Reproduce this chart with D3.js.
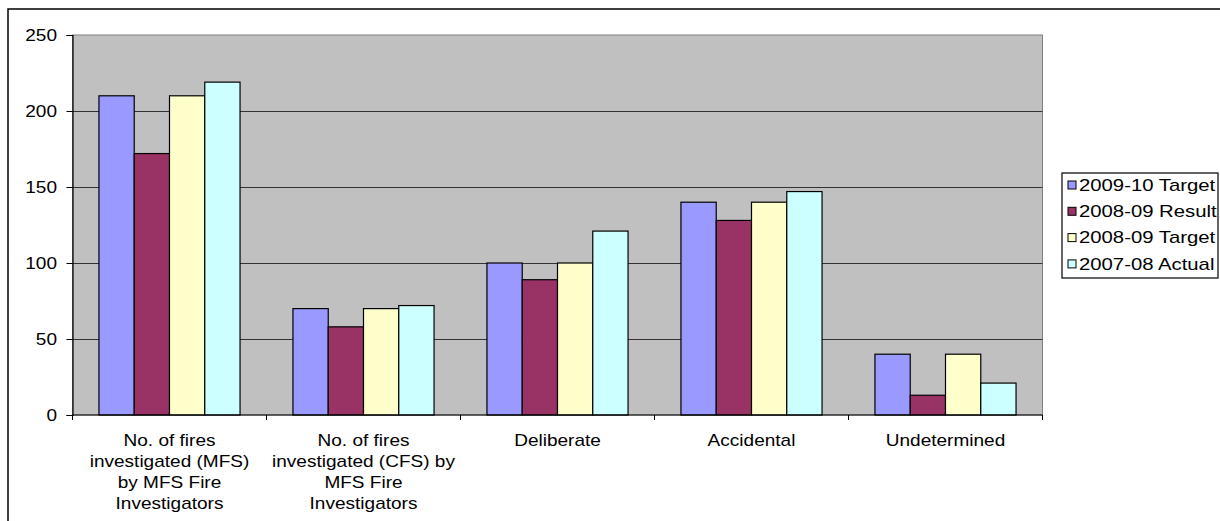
<!DOCTYPE html>
<html>
<head>
<meta charset="utf-8">
<script src="https://cdn.jsdelivr.net/npm/d3@7"></script>
<style>
  html, body { margin: 0; padding: 0; background: #fff; }
  svg { display: block; font-family: "Liberation Sans", Arial, sans-serif; }
</style>
</head>
<body>
<svg id="chart" width="1220" height="521"></svg>
<script>
// Fire investigation figures by category
const categories = [
  "No. of fires investigated (MFS) by MFS Fire Investigators",
  "No. of fires investigated (CFS) by MFS Fire Investigators",
  "Deliberate",
  "Accidental",
  "Undetermined"
];
const categoryLines = [
  ["No. of fires", "investigated (MFS)", "by MFS Fire", "Investigators"],
  ["No. of fires", "investigated (CFS) by", "MFS Fire", "Investigators"],
  ["Deliberate"],
  ["Accidental"],
  ["Undetermined"]
];
const seriesNames = ["2009-10 Target", "2008-09 Result", "2008-09 Target", "2007-08 Actual"];
const target2009_10 = [210, 70, 100, 140, 40];
const result2008_09 = [172, 58, 89, 128, 13];
const target2008_09 = [210, 70, 100, 140, 40];
const actual2007_08 = [219, 72, 121, 147, 21];
const seriesValues = [target2009_10, result2008_09, target2008_09, actual2007_08];
const seriesColors = ["#9999FF", "#993366", "#FFFFCC", "#CCFFFF"];
const yTicks = [0, 50, 100, 150, 200, 250];

const svg = d3.select("#chart");
const plot = { left: 72.5, right: 1042.5, top: 35, bottom: 415 };
// The text in this chart is set slightly wide
const wide = 1.12;

// Outer chart frame
svg.append("rect")
  .attr("x", 8).attr("y", 9)
  .attr("width", 1230).attr("height", 600)
  .attr("fill", "#fff").attr("stroke", "#000").attr("stroke-width", 1.5);

const y = d3.scaleLinear().domain([0, 250]).range([plot.bottom, plot.top]);
const x0 = d3.scaleBand().domain(categories).range([plot.left, plot.right]).padding(0);
const x1 = d3.scaleBand().domain(seriesNames).range([0, x0.bandwidth()])
  .paddingInner(0).paddingOuter(0.75);

// Plot background
svg.append("rect")
  .attr("x", plot.left).attr("y", plot.top)
  .attr("width", plot.right - plot.left).attr("height", plot.bottom - plot.top)
  .attr("fill", "#C0C0C0").attr("stroke", "#808080").attr("stroke-width", 1);

// Horizontal gridlines
svg.append("g").selectAll("line")
  .data(yTicks.filter(t => t > 0 && t < 250))
  .join("line")
  .attr("x1", plot.left).attr("x2", plot.right)
  .attr("y1", d => Math.round(y(d)) + 0.5).attr("y2", d => Math.round(y(d)) + 0.5)
  .attr("stroke", "#333").attr("stroke-width", 1);

// Bars
const groups = svg.append("g").selectAll("g")
  .data(categories)
  .join("g")
  .attr("transform", d => `translate(${x0(d)},0)`);

groups.selectAll("rect")
  .data((d, i) => seriesNames.map((s, j) => ({ s, v: seriesValues[j][i], c: seriesColors[j] })))
  .join("rect")
  .attr("x", d => x1(d.s))
  .attr("y", d => y(d.v))
  .attr("width", x1.bandwidth())
  .attr("height", d => y(0) - y(d.v))
  .attr("fill", d => d.c)
  .attr("stroke", "#000").attr("stroke-width", 1.2);

// Y axis
const yAxis = svg.append("g")
  .attr("transform", `translate(${plot.left},0)`)
  .call(d3.axisLeft(y).tickValues(yTicks).tickSize(6).tickPadding(9).tickFormat(d3.format("d")));
yAxis.select(".domain").attr("stroke", "#000").attr("stroke-width", 1.2);
yAxis.selectAll(".tick line").attr("stroke", "#000");
yAxis.selectAll("text")
  .attr("font-size", 17).attr("fill", "#000")
  .attr("font-family", "'Liberation Sans', Arial, sans-serif")
  .attr("x", 0)
  .attr("transform", `translate(-15.5,0) scale(${wide},1)`);

// X axis line and category separators
svg.append("line")
  .attr("x1", plot.left).attr("x2", plot.right)
  .attr("y1", plot.bottom).attr("y2", plot.bottom)
  .attr("stroke", "#000").attr("stroke-width", 1.2);
const bounds = categories.map(c => x0(c)).concat([plot.right]);
svg.append("g").selectAll("line")
  .data(bounds)
  .join("line")
  .attr("x1", d => d).attr("x2", d => d)
  .attr("y1", plot.bottom).attr("y2", plot.bottom + 5)
  .attr("stroke", "#000").attr("stroke-width", 1);

// Category labels
const labels = svg.append("g").selectAll("text")
  .data(categories)
  .join("text")
  .attr("transform", d => `translate(${x0(d) + x0.bandwidth() / 2},446) scale(${wide},1)`)
  .attr("text-anchor", "middle")
  .attr("font-size", 17)
  .attr("fill", "#000");
labels.each(function (d, i) {
  d3.select(this).selectAll("tspan")
    .data(categoryLines[i])
    .join("tspan")
    .attr("x", 0)
    .attr("dy", (t, k) => k === 0 ? 0 : 21)
    .text(t => t);
});

// Legend
const legend = svg.append("g").attr("transform", "translate(1062,173)");
legend.append("rect")
  .attr("x", 0).attr("y", 0).attr("width", 156).attr("height", 105)
  .attr("fill", "#fff").attr("stroke", "#000").attr("stroke-width", 1.2);
const items = legend.selectAll("g.item")
  .data(seriesNames)
  .join("g")
  .attr("class", "item")
  .attr("transform", (d, i) => `translate(0,${12 + i * 26.3})`);
items.append("rect")
  .attr("x", 6).attr("y", -4).attr("width", 8).attr("height", 8)
  .attr("fill", (d, i) => seriesColors[i])
  .attr("stroke", "#000").attr("stroke-width", 1);
items.append("text")
  .attr("transform", "translate(17,0) scale(1.27,1)")
  .attr("x", 0).attr("y", 0).attr("dy", "0.35em")
  .attr("font-size", 16).attr("fill", "#000")
  .text(d => d);
</script>
</body>
</html>
